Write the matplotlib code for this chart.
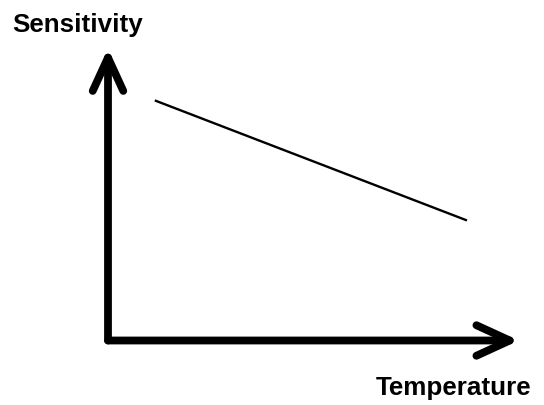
import matplotlib
matplotlib.use('Agg')
import matplotlib.pyplot as plt

# data (axes fraction units)
temperature = [0.115, 0.882]
sensitivity = [0.838, 0.419]
x_label = 'Temperature'
y_label = 'Sensitivity'


def start():
    plt.rcParams['font.family'] = ['Liberation Sans', 'DejaVu Sans']
    fig = plt.figure(figsize=(5.44, 4.06), dpi=100)
    ax = fig.add_axes([108 / 544, (406 - 341.5) / 406, 407 / 544, 286.5 / 406])
    ax.set_xlim(0, 1)
    ax.set_ylim(0, 1)
    ax.axis('off')

    ax.plot(temperature, sensitivity, color='black', lw=1.7, solid_capstyle='butt')

    arrow = dict(arrowstyle='->,head_length=1.2,head_width=0.55', lw=5.6, color='black',
                 shrinkA=0, shrinkB=0, mutation_scale=20, capstyle='round', joinstyle='round')
    # y axis arrow
    ax.annotate('', xy=(0, 1.02), xytext=(0, 0), xycoords='axes fraction',
                textcoords='axes fraction', arrowprops=arrow, annotation_clip=False)
    # x axis arrow
    ax.annotate('', xy=(1.01, 0), xytext=(0, 0), xycoords='axes fraction',
                textcoords='axes fraction', arrowprops=arrow, annotation_clip=False)

    fig.text(12 / 544, (406 - 32) / 406, y_label, ha='left', va='baseline',
             fontsize=18.7, fontweight='bold')
    fig.text(376 / 544, (406 - 395) / 406, x_label, ha='left', va='baseline',
             fontsize=18.7, fontweight='bold')

    fig.savefig('out.png', dpi=100)


if __name__ == "__main__":
    start()
